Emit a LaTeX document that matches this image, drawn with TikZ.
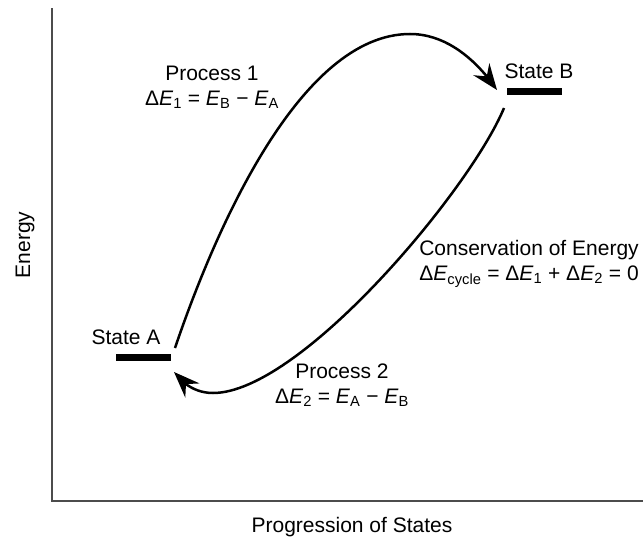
\documentclass[tikz,border=0pt]{standalone}
\usepackage{fontspec}
\setmainfont{Liberation Sans}
\usetikzlibrary{arrows.meta,bending,positioning}
\newcommand{\En}[1]{\textit{E}\textsubscript{#1}}
\newcommand{\dEn}[1]{Δ\En{#1}}

\begin{document}
\begin{tikzpicture}[x=1pt,y=-1pt,
    every node/.style={font=\fontsize{21}{25}\selectfont, inner sep=0pt},
    level/.style={fill=black, minimum width=55pt, minimum height=7pt, inner sep=0pt},
    process/.style={line width=2.5pt, -{Stealth[length=26pt,width=20pt,inset=9pt,flex]}},
    axis/.style={line width=1.2pt, draw=black!70}]
      \useasboundingbox (0,0) rectangle (643,538);
      % axes
      \coordinate (ytop) at (52,8);
      \coordinate (origin) at (52,501);
      \coordinate (xend) at (643,501);
      \draw[axis] (ytop) -- (origin) -- (xend);
      \node[rotate=90] (ylabel) at (25,245) {Energy};
      \node (xlabel) at (352,527) {Progression of States};
      % states
      \node[level] (barA) at (143.5,357) {};
      \node[level] (barB) at (534.5,91) {};
      \node (stateA) at (126,337) {State A};
      \node (stateB) at (539,71) {State B};
      % process 1
      \coordinate (p1start) at (175,348);
      \coordinate (p1top) at (410,34);
      \coordinate (p1end) at (497,90);
      \draw[process] (p1start) .. controls (215,230) and (300,34) .. (p1top)
        .. controls (450,34) and (480,65) .. (p1end);
      \node[align=center] (label1) at (212,87) {Process 1\\\dEn{1} = \En{B} − \En{A}};
      % process 2
      \coordinate (p2start) at (504,108);
      \coordinate (p2low) at (213,393);
      \coordinate (p2end) at (174,372);
      \draw[process] (p2start) .. controls (470,190) and (300,393) .. (p2low)
        .. controls (195,393) and (182,383) .. (p2end);
      \node[align=center] (label2) at (342,385) {Process 2\\\dEn{2} = \En{A} − \En{B}};
      % conservation
      \node[align=center] (cycle) at (529,264) {Conservation of Energy\\\dEn{cycle} = \dEn{1} + \dEn{2} = 0};
    \end{tikzpicture}
\end{document}
